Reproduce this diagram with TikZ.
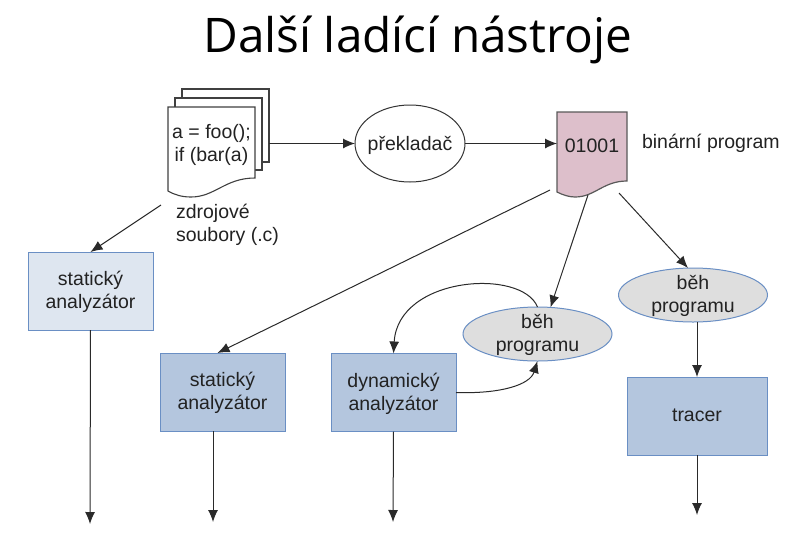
\documentclass[tikz,border=0pt]{standalone}
\usepackage{fontspec}
\setmainfont{Liberation Sans}
\newfontfamily\titlefont{Open Sans}
\usetikzlibrary{arrows.meta, shapes.geometric}

\definecolor{inkdark}{HTML}{222222}
\definecolor{linedark}{HTML}{2A2A2A}
\definecolor{docpink}{HTML}{DDBFCB}
\definecolor{boxlight}{HTML}{DEE6F0}
\definecolor{boxblue}{HTML}{B4C6DE}
\definecolor{edgeblue}{HTML}{6A8FC4}
\definecolor{ovalgray}{HTML}{DEDEDE}

\tikzset{
  label text/.style={text=inkdark, font=\fontsize{19.5}{23}\selectfont, align=center, inner sep=0pt, outer sep=0pt},
  arrow/.style={-{Latex[length=12pt,width=10pt]}, linedark, line width=1pt},
  plain line/.style={draw=black!75, line width=1.1pt},
  doc area/.style={label text, minimum width=#1, minimum height=70pt},
  blue box/.style={label text, text depth=2pt, draw=edgeblue, line width=0.9pt, fill=boxblue, minimum height=78pt, minimum width=125pt},
  run oval/.style={label text, text depth=2pt, inner ysep=-5pt, ellipse, draw=edgeblue, line width=1pt, fill=ovalgray, minimum width=149pt, minimum height=54pt},
}

\begin{document}
\begin{tikzpicture}[x=1pt, y=-1pt]
  \useasboundingbox (0,0) rectangle (812,550);

  % Title
  \node[text=black, font=\titlefont\fontsize{47.7}{56}\selectfont, inner sep=0pt] (title) at (418,39.5) {Další ladící nástroje};

  % Stacked source files
  \filldraw[plain line, fill=white] (182,89) -- (269,89) -- (269,162) -- (182,162) -- cycle;
  \filldraw[plain line, fill=white] (175,98) -- (262,98) -- (262,170) -- (175,170) -- cycle;
  \filldraw[plain line, fill=white] (168,107) -- (255,107) -- (255,178)
    .. controls (225,178) and (215,197) .. (191,197)
    .. controls (182,197) and (175,195) .. (168,191) -- cycle;
  \node[doc area=87pt] (srcdoc) at (211.5,145) {a = foo();\\if (bar(a)};
  \node[inner sep=0pt, outer sep=0pt, minimum width=87pt, minimum height=73pt] (srcback) at (225.5,125.5) {};
  \node[label text, align=left, anchor=north west] (srclabel) at (176,204) {zdrojové\\soubory (.c)};
  \coordinate (srcfoot) at (161,205);

  % Compiler
  \node[label text, text height=17pt, text depth=4pt, inner xsep=-6pt, ellipse, draw=black!80, line width=1pt, fill=white, minimum width=110pt, minimum height=77pt] (compiler) at (410,143.5) {překladač};

  % Binary program
  \filldraw[draw=black!65, line width=1.2pt, fill=docpink] (557,112) -- (627,112) -- (627,181)
    .. controls (603,181) and (595,197) .. (575,197)
    .. controls (569,197) and (563,195) .. (557,192) -- cycle;
  \node[doc area=70pt] (bindoc) at (592,146) {01001};
  \node[label text, anchor=west] (binlabel) at (642,143) {binární program};
  \coordinate (binfootl) at (550,190);
  \coordinate (binfootm) at (588,195);
  \coordinate (binfootr) at (619,193);

  % Analysers and tracer
  \node[blue box, fill=boxlight] (staticfirst) at (90.5,291) {statický\\analyzátor};
  \node[blue box] (staticsecond) at (222.5,392) {statický\\analyzátor};
  \node[blue box] (dynamic) at (393.5,392.5) {dynamický\\analyzátor};
  \node[blue box, minimum width=140pt] (tracer) at (697,416) {tracer};

  % Program runs
  \node[run oval] (runleft) at (537.5,334) {běh\\programu};
  \node[run oval] (runright) at (693,295) {běh\\programu};

  % Free ends at the bottom
  \coordinate (endone) at (90,524);
  \coordinate (endtwo) at (213,522);
  \coordinate (endthree) at (393,522);
  \coordinate (endfour) at (697,515);

  % Top row
  \draw[arrow] (srcback.east |- compiler.west) -- (compiler.west);
  \draw[arrow] (compiler.east) -- (bindoc.west |- compiler.east);

  % From the documents downwards
  \draw[arrow] (srcfoot) -- (staticfirst.north);
  \draw[arrow] (binfootl) -- ([xshift=-5pt]staticsecond.north);
  \draw[arrow] (binfootm) -- (runleft.64);
  \draw[arrow] (binfootr) -- ([xshift=-5pt]runright.north);
  \draw[arrow] (runright.south -| tracer.north) -- (tracer.north);

  % Loop between analyser and program
  \draw[arrow] (runleft.north) .. controls (522,268) and (398,276) .. (dynamic.north);
  \draw[arrow] (dynamic.east) .. controls (500,394) and (530,385) .. (runleft.south);

  % Outputs
  \draw[arrow] (staticfirst.south) -- (endone);
  \draw[arrow] (endtwo |- staticsecond.south) -- (endtwo);
  \draw[arrow] (dynamic.south) -- (endthree);
  \draw[arrow] (tracer.south) -- (endfour);
\end{tikzpicture}
\end{document}
